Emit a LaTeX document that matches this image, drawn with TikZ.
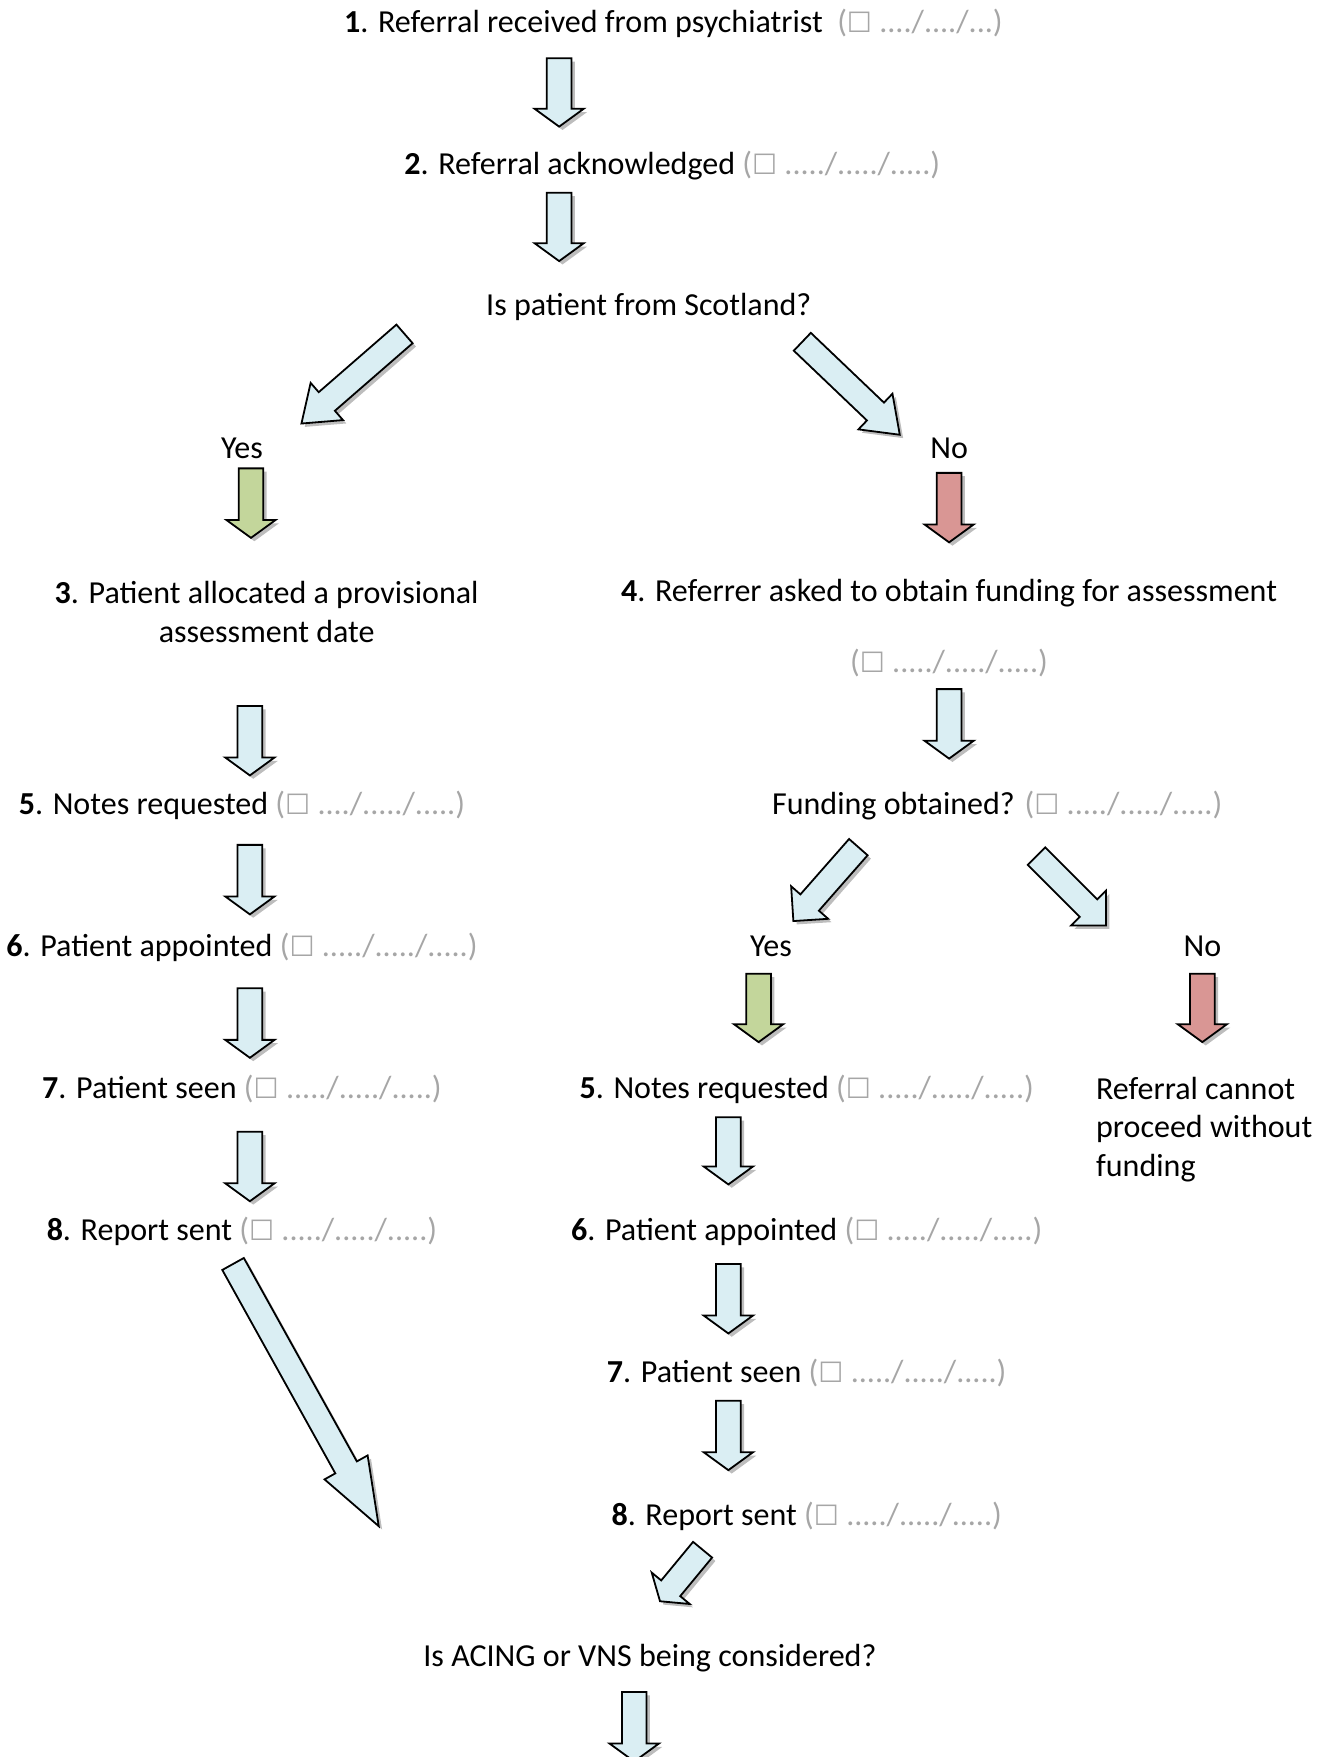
\documentclass[tikz,border=0pt]{standalone}
\usepackage{fontspec}
\setmainfont{Carlito}
\newfontfamily\boxfont{DejaVu Sans}
\usetikzlibrary{calc}
\definecolor{flowblue}{HTML}{DAEEF3}
\definecolor{flowgreen}{HTML}{C3D69B}
\definecolor{flowred}{HTML}{D99694}
\definecolor{dategray}{HTML}{A6A6A6}
\definecolor{shadowgray}{HTML}{BDBDBD}

\newcommand{\datefield}[1]{\textcolor{dategray}{({\boxfont\fontsize{25}{25}\selectfont\symbol{"2610}}\ #1)}}
\newcommand{\blockarrow}[4][flowblue]{%
  \path let \p1=(#2), \p2=(#3) in \pgfextra{%
    \pgfmathsetmacro{\arrowang}{atan2(\y2-\y1,\x2-\x1)}%
    \pgfmathsetmacro{\arrowlen}{veclen(\x2-\x1,\y2-\y1)}%
    \global\let\arrowang\arrowang\global\let\arrowlen\arrowlen};
  \fill[shadowgray, shift={(#2)}, xshift=3pt, yshift=-3pt, rotate=\arrowang]
    (0pt,-11pt) -- ({\arrowlen pt-#4pt},-11pt) -- ({\arrowlen pt-#4pt},-22pt) -- (\arrowlen pt,0pt)
    -- ({\arrowlen pt-#4pt},22pt) -- ({\arrowlen pt-#4pt},11pt) -- (0pt,11pt) -- cycle;
  \draw[flowline, fill=#1, shift={(#2)}, rotate=\arrowang]
    (0pt,-11pt) -- ({\arrowlen pt-#4pt},-11pt) -- ({\arrowlen pt-#4pt},-22pt) -- (\arrowlen pt,0pt)
    -- ({\arrowlen pt-#4pt},22pt) -- ({\arrowlen pt-#4pt},11pt) -- (0pt,11pt) -- cycle;
}

\begin{document}
\begin{tikzpicture}[x=1pt, y=-1pt,
    font=\fontsize{28.6}{34.5}\selectfont,
    txt/.style={anchor=base, inner sep=0pt},
    flowline/.style={draw=black, line width=1.6pt, line join=miter}
]
\useasboundingbox (0,0) rectangle (1187,1568);

\node[txt] (received) at (601,29) {\textbf{1}. Referral received from psychiatrist\ \ \datefield{..../..../...}};
\node[txt] (acknowledged) at (600,156) {\textbf{2}. Referral acknowledged \datefield{...../...../.....}};
\node[txt] (scotland) at (579,282) {Is patient from Scotland?};
\node[txt] (yesscot) at (216,409) {Yes};
\node[txt] (noscot) at (847,409) {No};
\node[inner sep=0pt, align=center] (provisional) at (238,546) {\textbf{3}. Patient allocated a provisional\\assessment date};
\node[txt] (askfunding) at (847,537) {\textbf{4}. Referrer asked to obtain funding for assessment};
\node[txt] (fundingdate) at (847,600) {\datefield{...../...../.....}};
\node[txt] (notesleft) at (216,727) {\textbf{5}. Notes requested \datefield{..../...../.....}};
\node[txt] (funding) at (890,727) {Funding obtained? \datefield{...../...../.....}};
\node[txt] (appointedleft) at (216,854) {\textbf{6}. Patient appointed \datefield{...../...../.....}};
\node[txt] (yesfund) at (688,854) {Yes};
\node[txt] (nofund) at (1073,854) {No};
\node[txt] (seenleft) at (216,980) {\textbf{7}. Patient seen \datefield{...../...../.....}};
\node[txt] (notesright) at (720,980) {\textbf{5}. Notes requested \datefield{...../...../.....}};
\node[inner sep=0pt, anchor=west, align=left] (cannot) at (978,1008) {Referral cannot\\proceed without\\funding};
\node[txt] (reportleft) at (216,1107) {\textbf{8}. Report sent \datefield{...../...../.....}};
\node[txt] (appointedright) at (720,1107) {\textbf{6}. Patient appointed \datefield{...../...../.....}};
\node[txt] (seenright) at (720,1234) {\textbf{7}. Patient seen \datefield{...../...../.....}};
\node[txt] (reportright) at (720,1361) {\textbf{8}. Report sent \datefield{...../...../.....}};
\node[txt] (acing) at (580,1487) {Is ACING or VNS being considered?};

\foreach \name/\x/\ya/\yb/\col in {d1/499/52/113/flowblue, d2/499/172/233/flowblue,
    yes1/224/418/480/flowgreen, no1/847/422/484/flowred,
    d3/223/630/692/flowblue, d4/847/615/677/flowblue, d5/223/754/816/flowblue,
    d6/223/882/944/flowblue, yes2/677/869/930/flowgreen, no2/1073/869/930/flowred,
    d7/223/1010/1072/flowblue, d8/650/997/1057/flowblue, d9/650/1128/1190/flowblue,
    d10/650/1250/1312/flowblue, d11/566/1510/1572/flowblue} {
  \coordinate (\name-tail) at (\x,\ya);
  \coordinate (\name-tip) at (\x,\yb);
  \blockarrow[\col]{\name-tail}{\name-tip}{16}
}

\foreach \name/\xa/\ya/\xb/\yb/\head in {s1/361/298/269/378/30, s2/716/305/803/388/30,
    f1/766/756/708/822/22, f2/925/764/987/826/22,
    long/208/1128/338/1362/60, b1/627/1383/589/1429/15} {
  \coordinate (\name-tail) at (\xa,\ya);
  \coordinate (\name-tip) at (\xb,\yb);
  \blockarrow{\name-tail}{\name-tip}{\head}
}
\end{tikzpicture}
\end{document}
